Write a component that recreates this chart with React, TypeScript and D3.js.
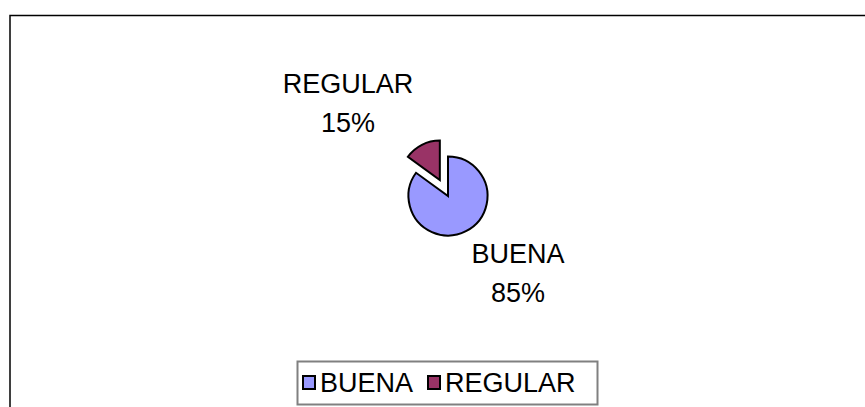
import React, { useEffect, useRef } from "react";
import { select, pie, arc } from "d3";

// data
const categories = ["BUENA", "REGULAR"];
const values = [85, 15];
const colors = ["#9999FF", "#993366"];

const width = 865;
const height = 407;

export default function App() {
  const ref = useRef<SVGSVGElement>(null);

  useEffect(() => {
    const svg = select(ref.current);
    svg.selectAll("*").remove();

    const font = "'Liberation Sans', Arial, sans-serif";
    const fontSize = 27;

    // chart area border (only left + top edges visible in the frame)
    svg
      .append("rect")
      .attr("x", 10)
      .attr("y", 15.5)
      .attr("width", 1000)
      .attr("height", 600)
      .attr("fill", "white")
      .attr("stroke", "black")
      .attr("stroke-width", 1.5);

    const cx = 448;
    const cy = 196;
    const radius = 39.5;
    const explode = 18;

    const data = categories.map((c, i) => ({ name: c, value: values[i], color: colors[i] }));
    const arcs = pie<any>().sort(null).value((d) => d.value)(data);
    const arcGen = arc<any>().innerRadius(0).outerRadius(radius);

    const g = svg.append("g").attr("transform", `translate(${cx},${cy})`);

    g.selectAll("path")
      .data(arcs)
      .enter()
      .append("path")
      .attr("d", arcGen)
      .attr("transform", (d) => {
        if (d.data.name !== "REGULAR") return null;
        const mid = (d.startAngle + d.endAngle) / 2;
        return `translate(${Math.sin(mid) * explode},${-Math.cos(mid) * explode})`;
      })
      .attr("fill", (d) => d.data.color)
      .attr("stroke", "black")
      .attr("stroke-width", 2)
      .attr("stroke-linejoin", "miter");

    // data labels
    const labelPos: Record<string, [number, number]> = {
      BUENA: [518, 263],
      REGULAR: [348, 93],
    };
    arcs.forEach((d) => {
      const [x, y] = labelPos[d.data.name];
      const t = svg
        .append("text")
        .attr("x", x)
        .attr("y", y)
        .attr("text-anchor", "middle")
        .attr("font-family", font)
        .attr("font-size", fontSize)
        .attr("fill", "black");
      t.append("tspan").attr("x", x).text(d.data.name);
      t.append("tspan").attr("x", x).attr("dy", 39).text(`${d.data.value}%`);
    });

    // legend
    const lg = svg.append("g");
    lg.append("rect")
      .attr("x", 297.5)
      .attr("y", 361.5)
      .attr("width", 300)
      .attr("height", 43)
      .attr("fill", "white")
      .attr("stroke", "#808080")
      .attr("stroke-width", 2);

    const legendX = [303, 428];
    data.forEach((d, i) => {
      lg.append("rect")
        .attr("x", legendX[i])
        .attr("y", 376)
        .attr("width", 12)
        .attr("height", 13)
        .attr("fill", d.color)
        .attr("stroke", "black")
        .attr("stroke-width", 2);
      lg.append("text")
        .attr("x", legendX[i] + 17)
        .attr("y", 392)
        .attr("font-family", font)
        .attr("font-size", fontSize)
        .attr("fill", "black")
        .text(d.name);
    });
  }, []);

  return (
    <svg
      ref={ref}
      width={width}
      height={height}
      style={{ position: "absolute", left: 0, top: 0, background: "white" }}
    />
  );
}
